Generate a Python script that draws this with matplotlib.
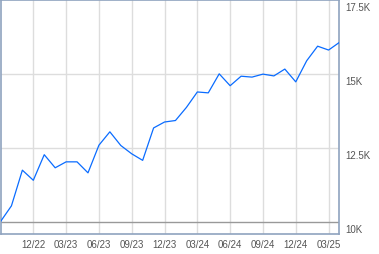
import numpy as np
import matplotlib
matplotlib.use("Agg")
import matplotlib.pyplot as plt
from matplotlib.transforms import ScaledTranslation

# monthly values, 09/22 .. 04/25 (in thousands)
values = [10.03, 10.56, 11.76, 11.42, 12.28, 11.84, 12.04, 12.04, 11.67, 12.60,
          13.05, 12.59, 12.31, 12.09, 13.18, 13.38, 13.43, 13.87, 14.39, 14.36,
          15.00, 14.60, 14.92, 14.89, 14.99, 14.93, 15.16, 14.73, 15.44, 15.93,
          15.80, 16.06]
x_ticks = [3, 6, 9, 12, 15, 18, 21, 24, 27, 30]
x_labels = ['12/22', '03/23', '06/23', '09/23', '12/23', '03/24', '06/24',
            '09/24', '12/24', '03/25']
y_ticks = [10, 12.5, 15, 17.5]
y_labels = ['10K', '12.5K', '15K', '17.5K']

plt.rcParams['font.family'] = ['Liberation Sans', 'DejaVu Sans']

fig = plt.figure(figsize=(3.79, 2.55), dpi=100)
ax = fig.add_axes([0.5 / 379, 20.5 / 255, 339 / 379, 234 / 255])

x = np.arange(len(values))
ax.plot(x, values, color='#0a6cff', lw=0.9, zorder=3)

ax.set_xlim(0, len(values) - 1)
ax.set_ylim(9.63, 17.5)

for t in x_ticks:
    ax.axvline(t, color='#dddddd', lw=1, zorder=1)
for t in y_ticks[1:3]:
    ax.axhline(t, color='#dddddd', lw=1, zorder=1)
ax.axhline(10, color='#999999', lw=1, zorder=2)

ax.set_xticks(x_ticks, x_labels)
ax.set_yticks(y_ticks, y_labels)
ax.yaxis.tick_right()
ax.tick_params(axis='both', length=0, labelsize=7, colors='#555555')
ax.tick_params(axis='x', pad=4)
ax.tick_params(axis='y', pad=4)
off = ScaledTranslation(0, -2 / 100, fig.dpi_scale_trans)
for lbl in ax.get_yticklabels():
    lbl.set_va('top')
    lbl.set_transform(lbl.get_transform() + off)

for s in ax.spines.values():
    s.set_color('#8fa3bf')
    s.set_linewidth(1.2)

fig.savefig('out.png', dpi=100)
